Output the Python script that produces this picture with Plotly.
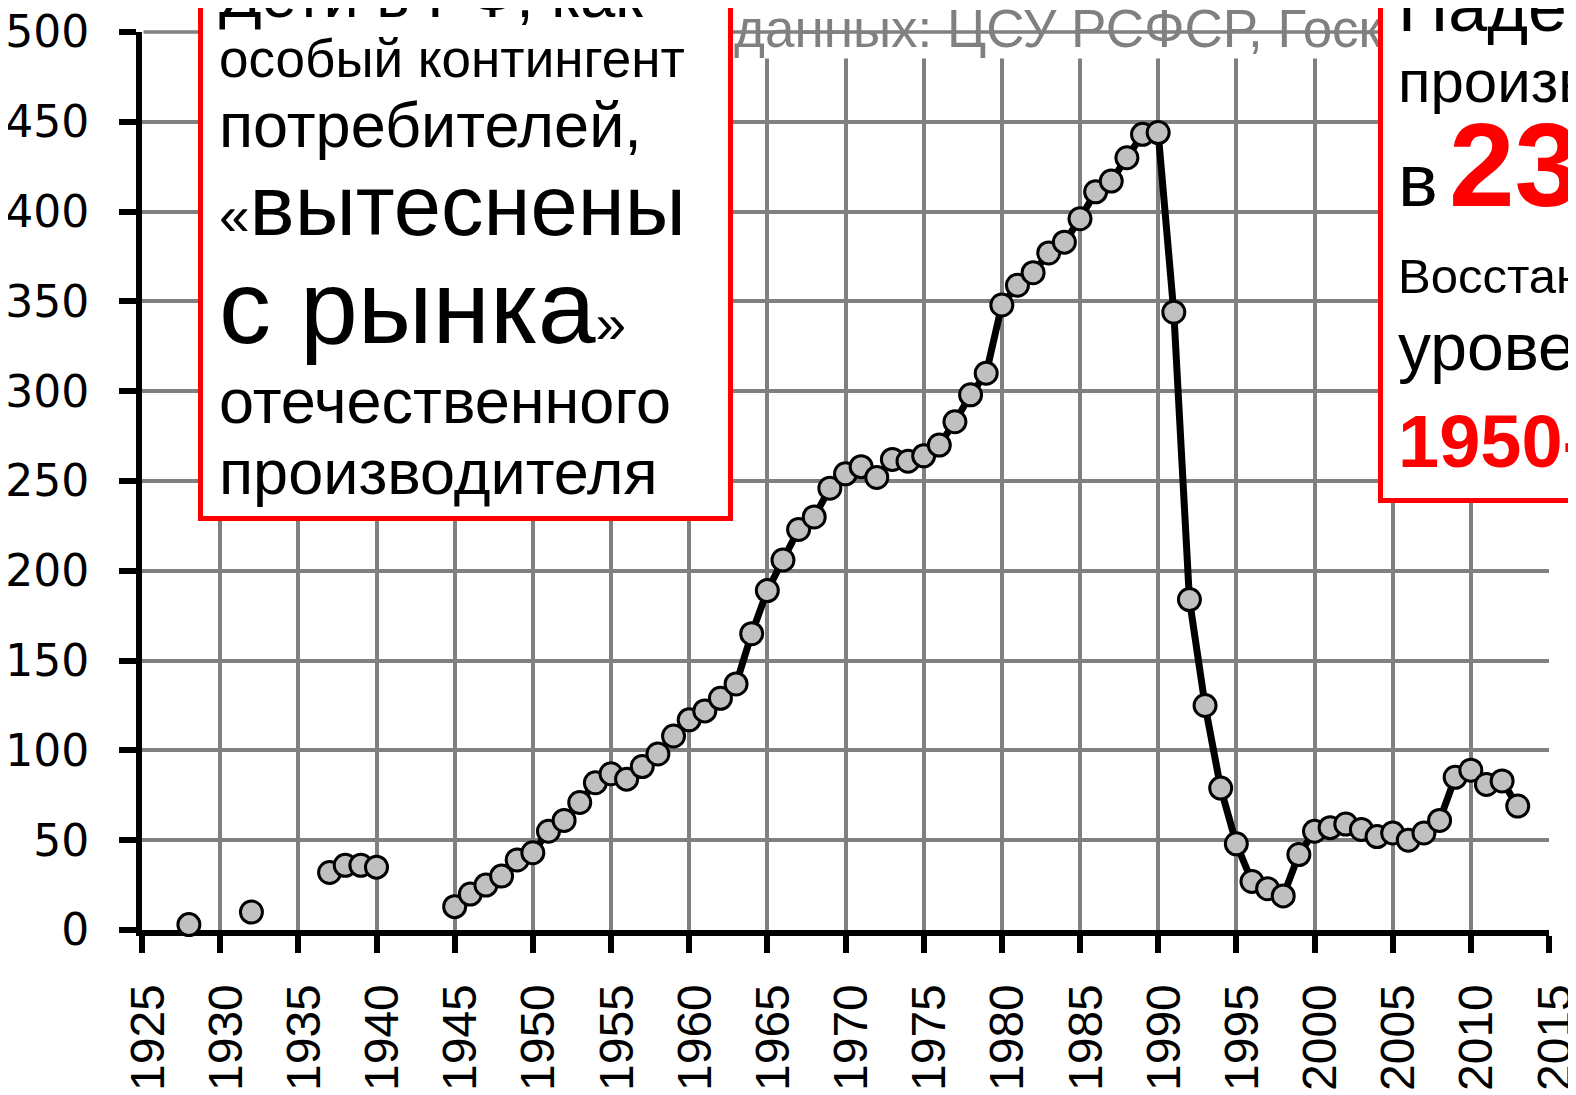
import plotly.graph_objects as go

# --- data ---
years = [1928, 1930, 1932, 1934, 1937, 1938, 1939, 1940, 1942,
         1945, 1946, 1947, 1948, 1949, 1950, 1951, 1952, 1953, 1954,
         1955, 1956, 1957, 1958, 1959, 1960, 1961, 1962, 1963, 1964,
         1965, 1966, 1967, 1968, 1969, 1970, 1971, 1972, 1973, 1974,
         1975, 1976, 1977, 1978, 1979, 1980, 1981, 1982, 1983, 1984,
         1985, 1986, 1987, 1988, 1989, 1990, 1991, 1992, 1993, 1994,
         1995, 1996, 1997, 1998, 1999, 2000, 2001, 2002, 2003, 2004,
         2005, 2006, 2007, 2008, 2009, 2010, 2011, 2012, 2013]
values = [3, None, 10, None, 32, 36, 36, 35, None,
          13, 20, 25, 30, 39, 43, 55, 61, 71, 82,
          87, 84, 91, 98, 108, 117, 122, 129, 137, 165,
          189, 206, 223, 230, 246, 254, 258, 252, 262, 261,
          264, 270, 283, 298, 310, 348, 359, 366, 377, 383,
          396, 411, 417, 430, 443, 444, 344, 184, 125, 79,
          48, 27, 23, 19, 42, 55, 57, 59, 56, 52,
          54, 50, 54, 61, 85, 89, 81, 83, 69]

x_ticks = list(range(1925, 2016, 5))
y_ticks = list(range(0, 501, 50))

left_lines = [
    "Дети в РФ, как",
    "особый контингент",
    "потребителей,",
    '<span style="font-size:55px">«</span>вытеснены',
    'с рынка<span style="font-size:55px">»</span>',
    "отечественного",
    "производителя",
]
right_lines = [
    "Падение",
    "производства",
    'в<span style="font-size:40px"> </span><b><span style="color:#ff0000;font-size:118px">23</span></b> раза',
    "Восстановлено",
    "уровень",
    "<b>1950-х</b>",
]
source_text = "данных: ЦСУ РСФСР, Госкомстат, Росстат"

# --- page geometry (pixels, as seen in the 1576x1095 window) ---
OFF = 8                      # the page body margin moves the figure by 8px
W, H = 1576 - OFF, 1095 - OFF
L, R, T, B = 142 - OFF, 27, 32 - OFF, 165
PW, PH = W - L - R, H - T - B
RED = "#ff0000"
GRID = "#808080"
FONT = "Liberation Sans, Arial, sans-serif"


def px(x):
    return (x - OFF - L) / PW


def py(y):
    return (H - B - (y - OFF)) / PH


def text_line(text, x, baseline, size, color="black", tallest=None):
    # anchor on the middle of the text box, derived from the baseline
    tallest = tallest or size
    return dict(
        text=text, xref="paper", yref="paper", x=px(x),
        y=py(baseline - 0.347 * tallest), xanchor="left", yanchor="middle",
        showarrow=False, font=dict(family=FONT, size=size, color=color),
        borderpad=0,
    )


def box(x0, x1, y0, y1, bw=5):
    return dict(
        text=" ", xref="paper", yref="paper", x=px(x0), y=py(y1),
        xanchor="left", yanchor="bottom", showarrow=False,
        width=x1 - x0 - 2 * bw, height=y1 - y0 - 2 * bw,
        bgcolor="white", bordercolor=RED, borderwidth=bw, borderpad=0,
    )


fig = go.Figure()
fig.add_trace(go.Scatter(
    x=years, y=values, mode="lines+markers", connectgaps=False,
    line=dict(color="black", width=7),
    marker=dict(size=22, color="#c0c0c0", line=dict(color="black", width=3)),
    cliponaxis=False, showlegend=False,
))

annotations = []
# grey source line at the top, partly hidden behind the boxes
annotations.append(dict(
    text=source_text, xref="paper", yref="paper", x=px(733),
    y=py(47 - 0.347 * 53), xanchor="left", yanchor="middle",
    showarrow=False, font=dict(family=FONT, size=53, color=GRID),
    bgcolor="white", borderpad=0,
))
# top gridline runs over the source text
annotations.append(dict(
    text="", xref="x", yref="y", x=2015, y=500, axref="x", ayref="y",
    ax=1925, ay=500, showarrow=True, arrowhead=0, arrowwidth=3.5,
    arrowcolor=GRID, standoff=0, startstandoff=0,
))
annotations.append(dict(
    text=" ", xref="paper", yref="paper", x=px(730), y=py(5),
    xanchor="left", yanchor="bottom", showarrow=False,
    width=650, height=14, bgcolor="#dcdcdc", borderpad=0,
))

# right box
annotations.append(box(1378, 1720, -40, 503))
right_pos = [(31, 70), (102, 60), (206, 75), (293, 49), (370, 66), (467, 74)]
for i, (txt, (bl, sz)) in enumerate(zip(right_lines, right_pos)):
    col = RED if i == 5 else "black"
    tallest = 118 if i == 2 else None
    annotations.append(text_line(txt, 1397, bl, sz, col, tallest))

# left box
annotations.append(box(198, 733, -40, 521))
left_pos = [(17, 63), (77, 53), (147, 63), (235, 85), (343, 104), (423, 63), (494, 63)]
for txt, (bl, sz) in zip(left_lines, left_pos):
    annotations.append(text_line(txt, 218, bl, sz))

fig.update_layout(
    width=W, height=H,
    margin=dict(l=L, r=R, t=T, b=B, pad=0, autoexpand=False),
    paper_bgcolor="white", plot_bgcolor="white",
    annotations=annotations,
    showlegend=False,
)
fig.update_xaxes(
    range=[1925, 2015], tickvals=x_ticks, ticktext=[str(v) for v in x_ticks],
    showgrid=True, gridcolor=GRID, gridwidth=3.5, zeroline=False,
    showline=True, linecolor="black", linewidth=6, automargin=False,
    ticks="outside", ticklen=17, tickwidth=6, tickcolor="black",
    tickangle=-90, ticklabelstandoff=12, ticklabelshift=6,
    ticklabeloverflow="allow", layer="below traces",
    tickfont=dict(family=FONT, size=48, color="black"),
)
fig.update_yaxes(
    range=[0, 500], tickvals=y_ticks,
    showgrid=True, gridcolor=GRID, gridwidth=3.5, zeroline=False,
    showline=True, linecolor="black", linewidth=6, automargin=False,
    ticks="outside", ticklen=17, tickwidth=6, tickcolor="black",
    ticklabelstandoff=21, ticklabeloverflow="allow", layer="below traces",
    tickfont=dict(family="DejaVu Sans, Verdana, sans-serif", size=44, color="black"),
)

fig.write_html("out.html")
